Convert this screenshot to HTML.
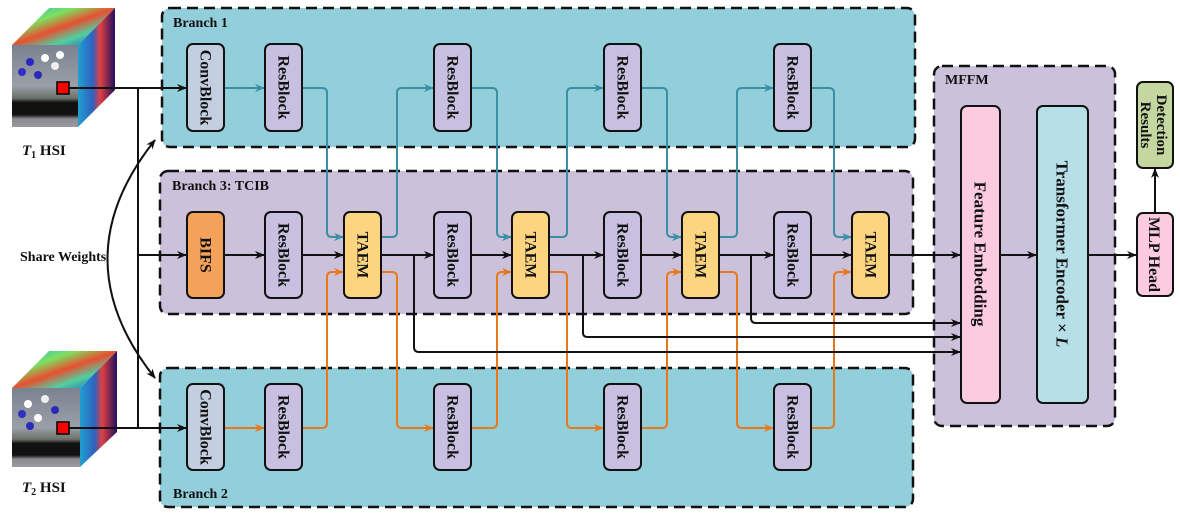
<!DOCTYPE html>
<html><head><meta charset="utf-8"><style>
body{margin:0;background:#fff}
svg text{font-family:"Liberation Serif",serif;font-weight:bold;fill:#111}
</style></head><body>
<svg width="1180" height="516" viewBox="0 0 1180 516" xmlns="http://www.w3.org/2000/svg">
<defs>
<marker id="ak" markerWidth="10" markerHeight="8" refX="9" refY="4" orient="auto-start-reverse" markerUnits="userSpaceOnUse"><path d="M0,0 L10,4 L0,8 L3,4z" fill="#111"/></marker>
<marker id="at" markerWidth="10" markerHeight="8" refX="9" refY="4" orient="auto" markerUnits="userSpaceOnUse"><path d="M0,0 L10,4 L0,8 L3,4z" fill="#3a8fa5"/></marker>
<marker id="ao" markerWidth="10" markerHeight="8" refX="9" refY="4" orient="auto" markerUnits="userSpaceOnUse"><path d="M0,0 L10,4 L0,8 L3,4z" fill="#e8791a"/></marker>
<linearGradient id="hm" x1="0" y1="0" x2="1" y2="1"><stop offset="0" stop-color="#1fb8e0"/><stop offset=".3" stop-color="#7de060"/><stop offset=".5" stop-color="#e85030"/><stop offset=".7" stop-color="#50d0a0"/><stop offset="1" stop-color="#2040c0"/></linearGradient>
<linearGradient id="sd" x1="0" y1="0" x2="1" y2="0"><stop offset="0" stop-color="#20a0d0"/><stop offset=".4" stop-color="#3060c0"/><stop offset=".6" stop-color="#e04040"/><stop offset="1" stop-color="#201060"/></linearGradient>
<linearGradient id="ph" x1="0" y1="0" x2="0" y2="1"><stop offset="0" stop-color="#7a8290"/><stop offset=".5" stop-color="#9aa0a8"/><stop offset=".65" stop-color="#6a7068"/><stop offset=".7" stop-color="#111"/><stop offset=".85" stop-color="#111"/><stop offset=".9" stop-color="#8a8a90"/><stop offset="1" stop-color="#9a9aa0"/></linearGradient>
</defs>

<g>
<polygon points="12,45 49,8 115,8 78,45" fill="url(#hm)"/>
<polygon points="78,45 115,8 115,90 78,127" fill="url(#sd)"/>
<rect x="12" y="45" width="66" height="82" fill="url(#ph)"/>
<circle cx="30" cy="62" r="4" fill="#2828c0"/><circle cx="45" cy="58" r="4" fill="#fff"/><circle cx="22" cy="72" r="4" fill="#3030c8"/><circle cx="55" cy="66" r="4" fill="#eee"/><circle cx="38" cy="75" r="4" fill="#2a2ab8"/><circle cx="60" cy="55" r="4" fill="#fff"/>
<rect x="57" y="82" width="12" height="12" fill="#f00" stroke="#000" stroke-width="1.5"/>
</g>
<g>
<polygon points="12,388 49,351 117,351 80,388" fill="url(#hm)"/>
<polygon points="80,388 117,351 117,432 80,467" fill="url(#sd)"/>
<rect x="12" y="388" width="68" height="79" fill="url(#ph)"/>
<circle cx="28" cy="404" r="4" fill="#fff"/><circle cx="45" cy="399" r="4" fill="#eee"/><circle cx="22" cy="414" r="4" fill="#3030c8"/><circle cx="55" cy="410" r="4" fill="#2a2ab8"/><circle cx="38" cy="418" r="4" fill="#fff"/><circle cx="30" cy="426" r="4" fill="#2a2ab8"/>
<rect x="57" y="422" width="12" height="12" fill="#f00" stroke="#000" stroke-width="1.5"/>
</g>
<text x="22" y="155" font-size="15"><tspan font-style="italic">T</tspan><tspan font-size="10" dy="3">1</tspan><tspan dy="-3"> HSI</tspan></text>
<text x="22" y="492" font-size="15"><tspan font-style="italic">T</tspan><tspan font-size="10" dy="3">2</tspan><tspan dy="-3"> HSI</tspan></text>
<text x="20" y="261" font-size="14">Share Weights</text>

<rect x="162" y="8" width="753" height="139" rx="8" fill="#93cedb" stroke="#111" stroke-width="2.5" stroke-dasharray="11,6"/>
<rect x="160" y="171" width="753" height="143" rx="8" fill="#cbc1db" stroke="#111" stroke-width="2.5" stroke-dasharray="11,6"/>
<rect x="160" y="368" width="753" height="139" rx="8" fill="#93cedb" stroke="#111" stroke-width="2.5" stroke-dasharray="11,6"/>
<rect x="934" y="66" width="181" height="360" rx="8" fill="#cbc1db" stroke="#111" stroke-width="2.5" stroke-dasharray="11,6"/>
<text x="173" y="27" font-size="14">Branch 1</text>
<text x="172" y="190" font-size="14">Branch 3: TCIB</text>
<text x="173" y="498" font-size="14">Branch 2</text>
<text x="945" y="84" font-size="14">MFFM</text>

<g stroke="#111" stroke-width="2" fill="none">
<line x1="69" y1="88" x2="186" y2="88" marker-end="url(#ak)"/>
<line x1="69" y1="428" x2="186" y2="428" marker-end="url(#ak)"/>
<line x1="138" y1="88" x2="138" y2="428"/>
<line x1="138" y1="255" x2="186" y2="255" marker-end="url(#ak)"/>
<path d="M155,140 Q60,259 155,378" marker-start="url(#ak)" marker-end="url(#ak)"/>
</g>

<g stroke="#3a8fa5" stroke-width="2" fill="none">
<line x1="224" y1="88" x2="264" y2="88" marker-end="url(#at)"/>
<path d="M302,88 H322 Q327,88 327,93 V232 Q327,237 332,237 H343" marker-end="url(#at)"/>
<path d="M381,237 H392 Q397,237 397,232 V93 Q397,88 402,88 H433" marker-end="url(#at)"/>
<path d="M471,88 H492 Q497,88 497,93 V232 Q497,237 502,237 H511" marker-end="url(#at)"/>
<path d="M549,237 H562 Q567,237 567,232 V93 Q567,88 572,88 H603" marker-end="url(#at)"/>
<path d="M641,88 H662 Q667,88 667,93 V232 Q667,237 672,237 H681" marker-end="url(#at)"/>
<path d="M719,237 H732 Q737,237 737,232 V93 Q737,88 742,88 H773" marker-end="url(#at)"/>
<path d="M811,88 H829 Q834,88 834,93 V232 Q834,237 839,237 H851" marker-end="url(#at)"/>
</g>
<g stroke="#e8791a" stroke-width="2" fill="none">
<line x1="224" y1="428" x2="264" y2="428" marker-end="url(#ao)"/>
<path d="M302,428 H322 Q327,428 327,423 V277 Q327,272 332,272 H343" marker-end="url(#ao)"/>
<path d="M381,272 H392 Q397,272 397,277 V423 Q397,428 402,428 H433" marker-end="url(#ao)"/>
<path d="M471,428 H492 Q497,428 497,423 V277 Q497,272 502,272 H511" marker-end="url(#ao)"/>
<path d="M549,272 H562 Q567,272 567,277 V423 Q567,428 572,428 H603" marker-end="url(#ao)"/>
<path d="M641,428 H662 Q667,428 667,423 V277 Q667,272 672,272 H681" marker-end="url(#ao)"/>
<path d="M719,272 H732 Q737,272 737,277 V423 Q737,428 742,428 H773" marker-end="url(#ao)"/>
<path d="M811,428 H829 Q834,428 834,423 V277 Q834,272 839,272 H851" marker-end="url(#ao)"/>
</g>
<g stroke="#111" stroke-width="2" fill="none">
<line x1="224" y1="255" x2="264" y2="255" marker-end="url(#ak)"/>
<line x1="302" y1="255" x2="343" y2="255" marker-end="url(#ak)"/>
<line x1="381" y1="255" x2="433" y2="255" marker-end="url(#ak)"/>
<line x1="471" y1="255" x2="511" y2="255" marker-end="url(#ak)"/>
<line x1="549" y1="255" x2="603" y2="255" marker-end="url(#ak)"/>
<line x1="641" y1="255" x2="681" y2="255" marker-end="url(#ak)"/>
<line x1="719" y1="255" x2="773" y2="255" marker-end="url(#ak)"/>
<line x1="811" y1="255" x2="851" y2="255" marker-end="url(#ak)"/>
<line x1="889" y1="255" x2="960" y2="255" marker-end="url(#ak)"/>
<line x1="1000" y1="255" x2="1036" y2="255" marker-end="url(#ak)"/>
<line x1="1088" y1="255" x2="1136" y2="255" marker-end="url(#ak)"/>
<line x1="1155" y1="213" x2="1155" y2="169" marker-end="url(#ak)"/>
<path d="M414,255 V347 Q414,352 419,352 H960" marker-end="url(#ak)"/>
<path d="M583,255 V333 Q583,337 588,337 H960" marker-end="url(#ak)"/>
<path d="M751,255 V318 Q751,323 756,323 H960" marker-end="url(#ak)"/>
</g>

<g stroke="#111" stroke-width="2">
<rect x="187" y="44" width="37" height="87" rx="6" fill="#c3cfe0"/>
<rect x="265" y="44" width="37" height="87" rx="6" fill="#c7c0e0"/>
<rect x="434" y="44" width="37" height="87" rx="6" fill="#c7c0e0"/>
<rect x="604" y="44" width="37" height="87" rx="6" fill="#c7c0e0"/>
<rect x="774" y="44" width="37" height="87" rx="6" fill="#c7c0e0"/>
<rect x="187" y="212" width="37" height="86" rx="6" fill="#f4a15a"/>
<rect x="265" y="212" width="37" height="86" rx="6" fill="#c7c0e0"/>
<rect x="344" y="212" width="37" height="86" rx="6" fill="#fdd581"/>
<rect x="434" y="212" width="37" height="86" rx="6" fill="#c7c0e0"/>
<rect x="512" y="212" width="37" height="86" rx="6" fill="#fdd581"/>
<rect x="604" y="212" width="37" height="86" rx="6" fill="#c7c0e0"/>
<rect x="682" y="212" width="37" height="86" rx="6" fill="#fdd581"/>
<rect x="774" y="212" width="37" height="86" rx="6" fill="#c7c0e0"/>
<rect x="852" y="212" width="37" height="86" rx="6" fill="#fdd581"/>
<rect x="187" y="384" width="37" height="86" rx="6" fill="#c3cfe0"/>
<rect x="265" y="384" width="37" height="86" rx="6" fill="#c7c0e0"/>
<rect x="434" y="384" width="37" height="86" rx="6" fill="#c7c0e0"/>
<rect x="604" y="384" width="37" height="86" rx="6" fill="#c7c0e0"/>
<rect x="774" y="384" width="37" height="86" rx="6" fill="#c7c0e0"/>
<rect x="961" y="106" width="39" height="297" rx="6" fill="#fdcbe0"/>
<rect x="1037" y="106" width="51" height="297" rx="6" fill="#b7dfe8"/>
<rect x="1137" y="213" width="36" height="83" rx="6" fill="#fdcbe0"/>
<rect x="1137" y="82" width="36" height="86" rx="6" fill="#c4d7a0"/>
</g>

<g font-size="16" text-anchor="middle">
<text transform="translate(205.5,87.5) rotate(90)" dy="5">ConvBlock</text>
<text transform="translate(283.5,87.5) rotate(90)" dy="5">ResBlock</text>
<text transform="translate(452.5,87.5) rotate(90)" dy="5">ResBlock</text>
<text transform="translate(622.5,87.5) rotate(90)" dy="5">ResBlock</text>
<text transform="translate(792.5,87.5) rotate(90)" dy="5">ResBlock</text>
<text transform="translate(205.5,255) rotate(90)" dy="5">BIFS</text>
<text transform="translate(283.5,255) rotate(90)" dy="5">ResBlock</text>
<text transform="translate(362.5,255) rotate(90)" dy="5">TAEM</text>
<text transform="translate(452.5,255) rotate(90)" dy="5">ResBlock</text>
<text transform="translate(530.5,255) rotate(90)" dy="5">TAEM</text>
<text transform="translate(622.5,255) rotate(90)" dy="5">ResBlock</text>
<text transform="translate(700.5,255) rotate(90)" dy="5">TAEM</text>
<text transform="translate(792.5,255) rotate(90)" dy="5">ResBlock</text>
<text transform="translate(870.5,255) rotate(90)" dy="5">TAEM</text>
<text transform="translate(205.5,427) rotate(90)" dy="5">ConvBlock</text>
<text transform="translate(283.5,427) rotate(90)" dy="5">ResBlock</text>
<text transform="translate(452.5,427) rotate(90)" dy="5">ResBlock</text>
<text transform="translate(622.5,427) rotate(90)" dy="5">ResBlock</text>
<text transform="translate(792.5,427) rotate(90)" dy="5">ResBlock</text>
<text transform="translate(980.5,254) rotate(90)" dy="6" font-size="17">Feature Embedding</text>
<text transform="translate(1062.5,254) rotate(90)" dy="6" font-size="17">Transformer Encoder × <tspan font-style="italic">L</tspan></text>
<text transform="translate(1155,254.5) rotate(90)" dy="6">MLP Head</text>
<text transform="translate(1155,125) rotate(90)" dy="-2" font-size="15">Detection</text>
<text transform="translate(1155,125) rotate(90)" dy="14" font-size="15">Results</text>
</g>
</svg>
</body></html>
